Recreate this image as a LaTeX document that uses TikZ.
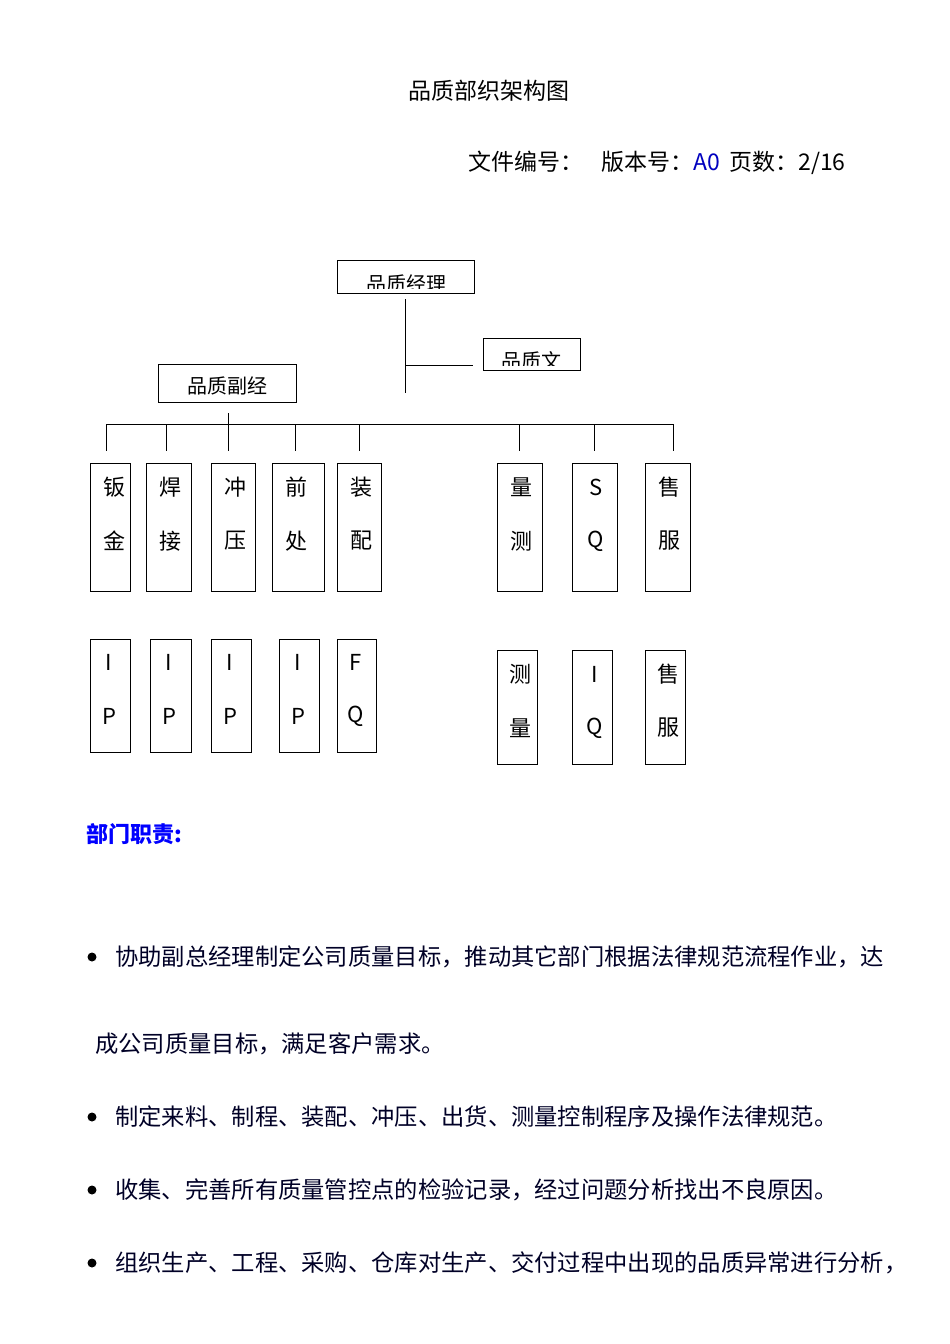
\documentclass[tikz,border=0pt]{standalone}
\usepackage{fontspec}
\setmainfont{Noto Sans CJK SC}
\begin{document}
\begin{tikzpicture}[x=1pt,y=-1pt,
  bx/.style={draw,line width=1pt},
  ln/.style={line width=1pt},
  ch/.style={font=\fontsize{22}{22}\selectfont,anchor=center,inner sep=0},
  bt/.style={font=\fontsize{23.3}{23.3}\selectfont,anchor=west,inner sep=0,text=black!85!blue}]
\useasboundingbox (0,0) rectangle (950,1344);
\node[font=\fontsize{23}{23}\selectfont] (title) at (489,91) {品质部织架构图};
\node[font=\fontsize{23}{23}\selectfont,anchor=west] (hdr) at (465,163) {文件编号：\hspace{18pt}版本号：{\color{blue!75!black}A0}\hspace{4pt} 页数：2/16};
% top boxes with clipped text
\draw[bx] (337,260) rectangle (474,293);
\begin{scope}\clip (337,260) rectangle (474,288);
\node[ch,font=\fontsize{20}{20}\selectfont] (mgr) at (406,284) {品质经理};\end{scope}
\draw[bx] (483,338) rectangle (580,370);
\begin{scope}\clip (483,338) rectangle (580,365);
\node[ch,font=\fontsize{20}{20}\selectfont] (doc) at (531,361) {品质文};\end{scope}
\draw[bx] (158,364) rectangle (296,402);
\node[ch,font=\fontsize{20}{20}\selectfont] (vice) at (227,386) {品质副经};
\coordinate (v1) at (405,299); \coordinate (v2) at (405,393);
\coordinate (h1) at (405,365); \coordinate (h2) at (473,365);
\draw[ln] (v1)--(v2); \draw[ln] (h1)--(h2);
\coordinate (L) at (106,424); \coordinate (R) at (673,424);
\draw[ln] (L)--(R);
\draw[ln] (228,413)--(228,424);
\foreach \x in {106,166,228,295,359,519,594,673}{\draw[ln] (\x,424)--(\x,451);}
% row 1
\foreach \a/\b/\c/\d/\n in {90/130/钣/金/r1,146/191/焊/接/r2,211/255/冲/压/r3,272/324/前/处/r4,337/381/装/配/r5,497/542/量/测/r6,572/617/S/Q/r7,645/690/售/服/r8}{
  \draw[bx] (\a,463) rectangle (\b,591);
  \node[ch] (\n a) at ({\a+24},487) {\c};
  \node[ch] (\n b) at ({\a+24},541) {\d};}
% row 2
\foreach \a/\b/\c/\d/\n in {90/130/I/P/s1,150/191/I/P/s2,211/251/I/P/s3,279/319/I/P/s4,337/376/F/Q/s5}{
  \draw[bx] (\a,639) rectangle (\b,752);
  \node[ch] (\n a) at ({\a+19},662) {\c};
  \node[ch] (\n b) at ({\a+19},716) {\d};}
\foreach \a/\b/\c/\d/\n in {497/537/测/量/t1,572/612/I/Q/t2,645/685/售/服/t3}{
  \draw[bx] (\a,650) rectangle (\b,764);
  \node[ch] (\n a) at ({\a+23},674) {\c};
  \node[ch] (\n b) at ({\a+23},728) {\d};}
\node[anchor=west,inner sep=0,font=\fontsize{22}{22}\selectfont\bfseries,text=blue] (duty) at (86,834) {部门职责:};
\foreach \y/\n in {957/p1,1117/p3,1190/p4,1263/p5}{\fill (92,\y) circle (4.5);}
\node[bt] (p1) at (115,957) {协助副总经理制定公司质量目标，推动其它部门根据法律规范流程作业，达};
\node[bt] (p2) at (95,1044) {成公司质量目标，满足客户需求。};
\node[bt] (p3) at (115,1117) {制定来料、制程、装配、冲压、出货、测量控制程序及操作法律规范。};
\node[bt] (p4) at (115,1190) {收集、完善所有质量管控点的检验记录，经过问题分析找出不良原因。};
\node[bt] (p5) at (115,1263) {组织生产、工程、采购、仓库对生产、交付过程中出现的品质异常进行分析，};
\end{tikzpicture}
\end{document}
